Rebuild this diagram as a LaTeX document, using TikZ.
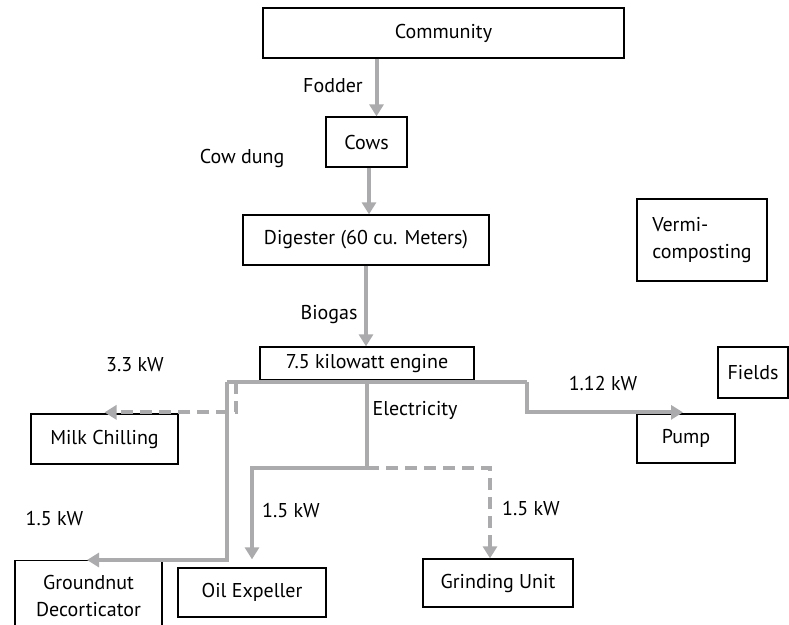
\documentclass[tikz,border=0pt]{standalone}
\usepackage{fontspec}
\setmainfont{PT Sans}
\usepackage{tikz}
\usetikzlibrary{arrows.meta,positioning,calc}
\definecolor{flowgrey}{HTML}{ABABAD}

\begin{document}
\begin{tikzpicture}[
  x=1pt, y=-1pt,
  every node/.style={font=\fontsize{20}{27}\selectfont},
  box/.style={draw=black, line width=1.3pt, inner sep=0pt, align=center},
  tag/.style={inner sep=0pt},
  wire/.style={draw=flowgrey, line width=4pt},
  flow/.style={wire, -{Triangle[width=14pt,length=12pt]}},
  dashflow/.style={flow, dash pattern=on 12pt off 7pt},
]
\useasboundingbox (0,0) rectangle (789,624);

% boxes (pixel centres of the reference)
\node[box, minimum width=361, minimum height=50] (community) at (443.5,33) {Community};
\node[box, minimum width=81, minimum height=50] (cows) at (366.5,142) {Cows};
\node[box, minimum width=246, minimum height=50] (digester) at (366,240) {Digester (60 cu. Meters)};
\node[box, minimum width=214, minimum height=33] (engine) at (367,363.5) {7.5 kilowatt engine};
\node[box, minimum width=130, minimum height=82, align=left] (vermi) at (702,240) {Vermi-\\composting};
\node[box, minimum width=70, minimum height=51] (fields) at (753,372.5) {Fields};
\node[box, minimum width=98, minimum height=49] (pump) at (686,438.5) {Pump};
\node[box, minimum width=147, minimum height=50] (milk) at (104.5,439) {Milk Chilling};
\node[box, minimum width=147, minimum height=70, anchor=north] (ground) at (88.5,560) {Groundnut\\Decorticator};
\node[box, minimum width=148, minimum height=49] (oil) at (252,592.5) {Oil Expeller};
\node[box, minimum width=150, minimum height=48] (grind) at (498,583) {Grinding Unit};

% labels
\node[tag] (fodder) at (333,86) {Fodder};
\node[tag] (dung) at (242,158) {Cow dung};
\node[tag] (biogas) at (329,315) {Biogas};
\node[tag] (kwmilk) at (135,365) {3.3 kW};
\node[tag] (elecl) at (415,410) {Electricity};
\node[tag] (kwpump) at (603,383) {1.12 kW};
\node[tag] (kwground) at (54.5,518) {1.5 kW};
\node[tag] (kwoil) at (291,510) {1.5 kW};
\node[tag] (kwgrind) at (531,508) {1.5 kW};

% junctions
\coordinate (busW) at (227,382);
\coordinate (busE) at (527,382);
\coordinate (milkj) at (236,382);
\coordinate (elec) at (367,468);

% connectors
\draw[flow] ([xshift=10pt]cows.north |- community.south) -- ([xshift=10pt]cows.north);
\draw[flow] ([xshift=2.5pt]cows.south) -- ([xshift=2.5pt]cows.south |- digester.north);
\draw[flow] (digester.south) -- (digester.south |- engine.north);
\draw[wire] (busW) -- (busE);
\draw[flow] (busE) |- ([xshift=-3pt,yshift=1pt]pump.north);
\draw[flow] (busW) |- ([xshift=-1.5pt]ground.north);
\draw[dashflow] (milkj) |- ([yshift=1pt]milk.north);
\draw[wire] (elec |- busW) -- (elec);
\draw[flow] (elec) -| ([yshift=8pt]oil.north);
\draw[dashflow] (elec) -| ([xshift=-8pt]grind.north);
\end{tikzpicture}
\end{document}
